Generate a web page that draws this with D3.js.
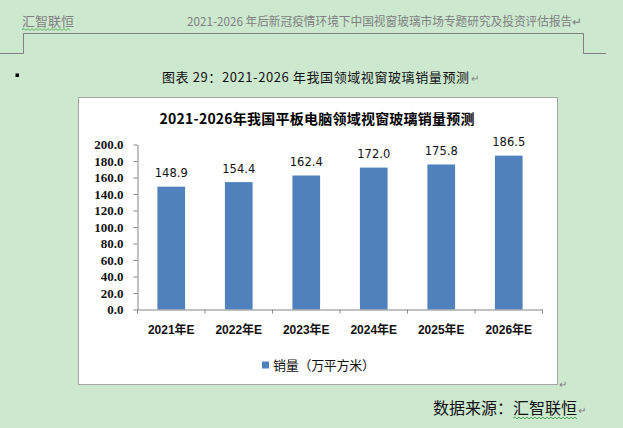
<!DOCTYPE html>
<html><head><meta charset="utf-8">
<script src="https://cdn.jsdelivr.net/npm/d3@7/dist/d3.min.js"></script>
<style>
html,body{margin:0;padding:0;background:#cce8cf;}
svg{display:block;}
</style></head>
<body>
<svg id="c" width="623" height="428"></svg>
<script>
const categories = ["2021年E","2022年E","2023年E","2024年E","2025年E","2026年E"];
const values = [148.9,154.4,162.4,172.0,175.8,186.5];
const yTicks = [0,20,40,60,80,100,120,140,160,180,200];
const seriesName = "销量（万平方米）";
const headerLeft = "汇智联恒";
const headerRight = "2021-2026 年后新冠疫情环境下中国视窗玻璃市场专题研究及投资评估报告";
const caption = "图表  29：2021-2026 年我国领域视窗玻璃销量预测";
const chartTitle = "2021-2026年我国平板电脑领域视窗玻璃销量预测";
const sourceText = "数据来源：汇智联恒";

(function(){
const svg = d3.select("#c");
const CJK = "'Noto Sans CJK SC','Liberation Sans',sans-serif";
const gray = "#808080";

function wavy(x0,yy,x1){
  let d=`M${x0},${yy}`; let up=true;
  for(let xx=x0+2;xx<=x1;xx+=2){ d+=`L${xx},${yy+(up?-1:1)}`; up=!up; }
  return d;
}

// page header
svg.append("text").attr("x",22).attr("y",26).attr("font-family",CJK).attr("font-size",13)
  .attr("fill",gray).text(headerLeft);
svg.append("path").attr("d",wavy(22,29.5,70)).attr("fill","none").attr("stroke","#3a9a3a").attr("stroke-width",0.8);
svg.append("text").attr("x",187).attr("y",26).attr("font-family",CJK).attr("font-size",12).attr("fill",gray)
  .attr("textLength",395).attr("lengthAdjust","spacingAndGlyphs").text(headerRight + "↵");
svg.append("path").attr("d","M0,53.5H23.5V33.5H583.5V53.5H606").attr("fill","none").attr("stroke",gray).attr("stroke-width",1);

// caption
svg.append("rect").attr("x",15.5).attr("y",73.5).attr("width",3.5).attr("height",3.5).attr("fill","#000");
const cap = svg.append("text").attr("x",162).attr("y",81.5).attr("font-family",CJK).attr("font-size",13).attr("fill","#111");
cap.append("tspan").attr("textLength",307).attr("lengthAdjust","spacing").text(caption);
cap.append("tspan").attr("font-size",10).attr("fill",gray).attr("dx",1).text("↵");

// chart box
svg.append("rect").attr("x",78.5).attr("y",97.5).attr("width",479).attr("height",287)
  .attr("fill","#fff").attr("stroke","#a6a6a6").attr("stroke-width",1);
svg.append("text").attr("x",559).attr("y",388).attr("font-family",CJK).attr("font-size",10).attr("fill",gray).text("↵");

svg.append("text").attr("x",317).attr("y",124).attr("text-anchor","middle").attr("font-family",CJK)
  .attr("font-size",14).attr("font-weight","bold").attr("fill","#000")
  .attr("textLength",315).attr("lengthAdjust","spacing").text(chartTitle);

const pl = 137.5, pr = 542.5, pt = 144.5, pb = 309.5;
const x = d3.scaleBand().domain(categories).range([pl,pr]).padding(0);
const y = d3.scaleLinear().domain([0,200]).range([pb,pt]);

// y axis
const ya = svg.append("g").attr("transform",`translate(${pl},0)`)
  .call(d3.axisLeft(y).tickValues(yTicks).tickFormat(d3.format(".1f")).tickSize(4).tickSizeOuter(0).tickPadding(10));
ya.attr("font-family",null);
ya.select(".domain").attr("stroke","#868686");
ya.selectAll(".tick line").attr("stroke","#868686");
ya.selectAll(".tick text").style("font-family","'Liberation Serif','Times New Roman',serif").attr("font-size",13)
  .attr("font-weight","bold").attr("fill","#111");

// bars
const bw = x.bandwidth()*0.41;
svg.append("g").selectAll("rect").data(values).join("rect")
  .attr("x",(d,i)=>x(categories[i])+x.bandwidth()/2-bw/2)
  .attr("y",d=>y(d)).attr("width",bw).attr("height",d=>y(0)-y(d))
  .attr("fill","#4f81bd");
svg.append("g").selectAll("text").data(values).join("text")
  .attr("x",(d,i)=>x(categories[i])+x.bandwidth()/2)
  .attr("y",d=>y(d)-9.5).attr("text-anchor","middle")
  .attr("font-family","'DejaVu Sans',sans-serif").attr("font-size",11.5).attr("fill","#111")
  .text(d=>d.toFixed(1));

// x axis
const xa = svg.append("g").attr("transform",`translate(0,${pb})`)
  .call(d3.axisBottom(x).tickSize(0).tickPadding(16));
xa.select(".domain").attr("stroke","#868686");
xa.selectAll(".tick text").attr("font-family","'Liberation Sans','Noto Sans CJK SC',sans-serif")
  .attr("font-size",12).attr("font-weight","bold").attr("fill","#111");
const bounds = categories.map(c=>x(c)).concat([x.range()[1]]);
svg.append("g").selectAll("line").data(bounds).join("line")
  .attr("x1",d=>d).attr("x2",d=>d).attr("y1",pb).attr("y2",pb+4)
  .attr("stroke","#868686");

// legend
svg.append("rect").attr("x",262).attr("y",361.5).attr("width",7).attr("height",7).attr("fill","#4f81bd");
svg.append("text").attr("x",273).attr("y",370).attr("font-family",CJK).attr("font-size",13)
  .attr("fill","#111").attr("textLength",102).attr("lengthAdjust","spacing").text(seriesName);

// source
const src = svg.append("text").attr("x",433).attr("y",414).attr("font-family",CJK).attr("font-size",16).attr("fill","#111");
src.append("tspan").text(sourceText);
src.append("tspan").attr("font-size",10).attr("fill",gray).attr("dx",1).text("↵");
svg.append("path").attr("d",wavy(513,418,577)).attr("fill","none").attr("stroke","#3a9a3a").attr("stroke-width",0.8);
})();
</script>
</body></html>
